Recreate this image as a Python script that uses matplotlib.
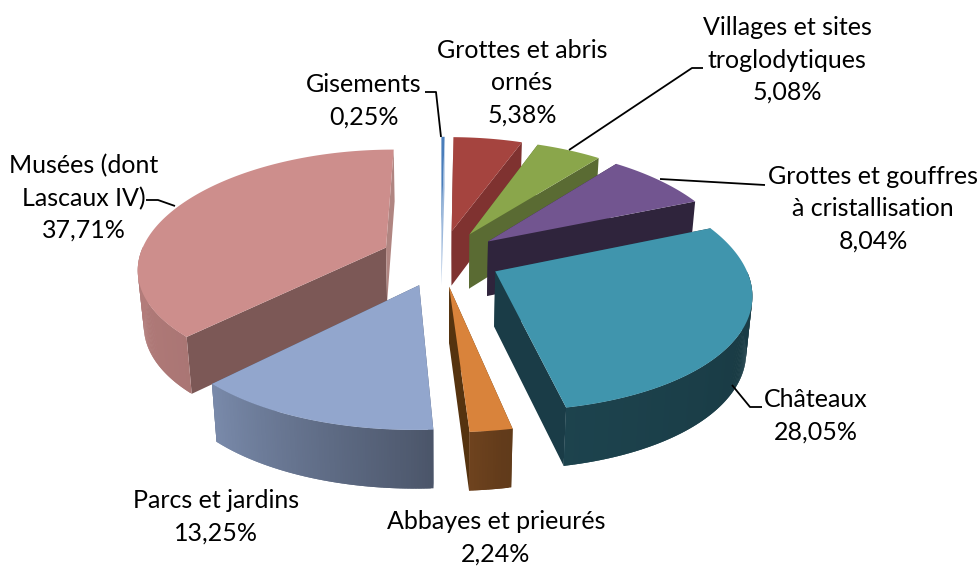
import numpy as np
import matplotlib
matplotlib.use('Agg')
import matplotlib.pyplot as plt
from matplotlib.colors import to_rgb

labels = ['Gisements', 'Grottes et abris\nornés', 'Villages et sites\ntroglodytiques',
          'Grottes et gouffres\nà cristallisation', 'Châteaux', 'Abbayes et prieurés',
          'Parcs et jardins', 'Musées (dont\nLascaux IV)']
values = [0.25, 5.38, 5.08, 8.04, 28.05, 2.24, 13.25, 37.71]
top_colors = ['#4A7EBB', '#A5443F', '#8AA64B', '#725590', '#4095AD', '#D9833B', '#92A6CD', '#CD8E8C']
cut_colors = ['#9DB9DC', '#7F3230', '#5A6B33', '#2F243C', '#1A3C47', '#55330F', '#4E5A72', '#7C5856']
end_cut_colors = ['#9DB9DC', '#7F3230', '#5A6B33', '#2F243C', '#1A3C47', '#55330F', '#4E5A72', '#B08581']

label_pos = [(364, 101), (522, 83), (787, 60), (873, 209), (816, 416), (496, 538), (216, 517), (84, 198)]

# leader lines, pixels
leaders = [[(425, 92), (436, 92), (441, 137)],
           [(569, 150), (692, 68), (703, 68)],
           [(660, 179), (765, 185)],
           [(732, 385), (750, 407), (762, 407)],
           [(146, 200), (158, 200), (175, 206)]]

# pie geometry
cx, cy = 441, 258
R, Rk = 247, 115
persp_x = 0.165
persp_y = 0.145
explode = 0.244

# how dark the outer wall is, by angle clockwise from the top
shade_a = [0, 67, 120, 170, 180, 224, 270, 360]
shade_f = [0.6, 0.42, 0.4, 0.45, 0.54, 0.83, 0.88, 0.9]


def project(x, y, bottom=False):
    sx = R * x / (1 - persp_x * y)
    sy = cy + Rk * y / (1 - persp_y * y)
    if bottom:
        sx = sx * 0.98
        sy = sy + 55 + 3 * y
    return cx + sx, sy


def shade(color, a):
    f = np.interp(a % 360, shade_a, shade_f)
    return tuple(c * f for c in to_rgb(color))


fig = plt.figure(figsize=(9.8, 5.66), dpi=100)
ax = fig.add_axes([0, 0, 1, 1])
ax.set_xlim(0, 980)
ax.set_ylim(566, 0)
ax.axis('off')
plt.rcParams['font.family'] = ['Lato', 'DejaVu Sans']

edges = np.cumsum([0] + values) * 3.6
mids = (edges[:-1] + edges[1:]) / 2
order = np.argsort(-np.cos(np.radians(mids)))

for i in order:
    a0, a1 = edges[i], edges[i + 1]
    mid = np.radians(mids[i])
    ox, oy = explode * np.sin(mid), -explode * np.cos(mid)
    angs = np.linspace(a0, a1, max(int(a1 - a0) * 2, 2) + 1)
    xs = ox + np.sin(np.radians(angs))
    ys = oy - np.cos(np.radians(angs))

    # the two cut faces
    for j, col in ((0, cut_colors[i]), (-1, end_cut_colors[i])):
        px = [ox, xs[j], xs[j], ox]
        py = [oy, ys[j], ys[j], oy]
        flags = [False, False, True, True]
        pts = [project(a, b, c) for a, b, c in zip(px, py, flags)]
        ax.fill(*zip(*pts), color=col, lw=0)

    # outer wall, only the part turned to the viewer
    # each piece runs over the next one so no seams show
    for k in range(len(angs) - 1):
        if np.cos(np.radians((angs[k] + angs[k + 1]) / 2)) > 0:
            continue
        m = min(k + 2, len(angs) - 1)
        pts = [project(xs[k], ys[k]), project(xs[m], ys[m]),
               project(xs[m], ys[m], True), project(xs[k], ys[k], True)]
        c = shade(top_colors[i], (angs[k] + angs[k + 1]) / 2)
        ax.fill(*zip(*pts), color=c, lw=0)

    pts = [project(ox, oy)] + [project(a, b) for a, b in zip(xs, ys)]
    ax.fill(*zip(*pts), color=top_colors[i], lw=0)

for line in leaders:
    ax.plot(*zip(*line), color='black', lw=1.3, solid_capstyle='butt')

for name, v, pos in zip(labels, values, label_pos):
    txt = name + '\n' + f'{v:.2f}'.replace('.', ',') + '%'
    ax.text(pos[0], pos[1], txt, ha='center', va='center', fontsize=18,
            linespacing=1.48, color='black')

fig.savefig('out.png', dpi=100)
